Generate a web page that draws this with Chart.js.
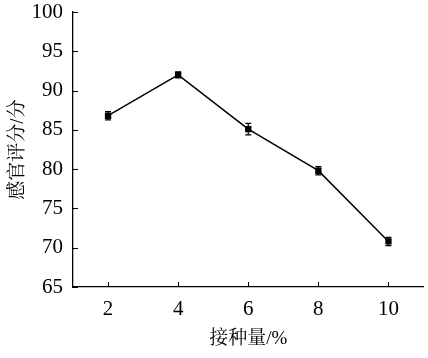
<!DOCTYPE html>
<html><head><meta charset="utf-8">
<script src="https://cdn.jsdelivr.net/npm/chart.js@4"></script>
<style>html,body{margin:0;padding:0;background:#fff;}#wrap{width:428px;height:358px;}</style>
</head><body><div id="wrap"><canvas id="c" width="428" height="358"></canvas></div>
<script>
const categories = [2, 4, 6, 8, 10];
const scores = [86.8, 92.0, 85.1, 79.8, 70.8];
const errors = [0.4, 0.25, 0.6, 0.4, 0.4];
const yTicks = [65, 70, 75, 80, 85, 90, 95, 100];
const xTitle = '接种量/%';
const yTitle = '感官评分/分';

const serif = "'Liberation Serif', 'Noto Serif CJK SC', 'Noto Sans CJK SC', serif";

const extras = {
  id: 'extras',
  afterDatasetsDraw(chart) {
    const ctx = chart.ctx, xs = chart.scales.x, ys = chart.scales.y;
    ctx.save();
    ctx.strokeStyle = '#000';
    ctx.lineWidth = 1.3;
    categories.forEach((c, i) => {
      const px = xs.getPixelForValue(c);
      const top = ys.getPixelForValue(scores[i] + errors[i]);
      const bot = ys.getPixelForValue(scores[i] - errors[i]);
      ctx.beginPath();
      ctx.moveTo(px, top - 1); ctx.lineTo(px, bot + 1);
      ctx.moveTo(px - 3, top - 1); ctx.lineTo(px + 3, top - 1);
      ctx.moveTo(px - 3, bot + 1); ctx.lineTo(px + 3, bot + 1);
      ctx.stroke();
    });
    ctx.lineWidth = 1;
    const area = chart.chartArea;
    categories.forEach(c => {
      const px = Math.round(xs.getPixelForValue(c)) + 0.5;
      ctx.beginPath(); ctx.moveTo(px, area.bottom); ctx.lineTo(px, area.bottom - 5); ctx.stroke();
    });
    yTicks.forEach(v => {
      const py = Math.round(ys.getPixelForValue(v)) + 0.5;
      ctx.beginPath(); ctx.moveTo(area.left, py); ctx.lineTo(area.left + 5, py); ctx.stroke();
    });
    ctx.restore();
  }
};

new Chart(document.getElementById('c'), {
  type: 'line',
  data: {
    datasets: [{
      data: categories.map((c, i) => ({x: c, y: scores[i]})),
      borderColor: '#000',
      backgroundColor: '#000',
      borderWidth: 1.5,
      pointStyle: 'rect',
      pointRadius: 4.5,
      pointBorderWidth: 0,
      tension: 0
    }]
  },
  options: {
    responsive: false,
    animation: false,
    devicePixelRatio: 1,
    layout: {padding: {top: 12, right: 1, left: 0, bottom: 0}},
    plugins: {legend: {display: false}, tooltip: {enabled: false}},
    scales: {
      x: {
        type: 'linear', min: 1, max: 11,
        afterBuildTicks: s => { s.ticks = categories.map(v => ({value: v})); },
        afterFit: s => { s.height = 71; s.paddingLeft = 0; s.paddingRight = 0; },
        grid: {display: true, drawOnChartArea: false, drawTicks: false},
        border: {display: true, color: '#000', width: 1.3},
        ticks: {color: '#000', padding: 10, font: {family: serif, size: 21}, callback: v => String(v)},
        title: {display: true, text: xTitle, color: '#000', font: {family: serif, size: 19}, padding: {top: 0, bottom: 8}}
      },
      y: {
        type: 'linear', min: 65, max: 100,
        afterBuildTicks: s => { s.ticks = yTicks.map(v => ({value: v})); },
        afterFit: s => { s.width = 73; s.paddingTop = 0; s.paddingBottom = 0; },
        grid: {display: true, drawOnChartArea: false, drawTicks: false},
        border: {display: true, color: '#000', width: 1.3},
        ticks: {color: '#000', padding: 10, font: {family: serif, size: 21}},
        title: {display: true, text: yTitle, color: '#000', font: {family: serif, size: 19}, padding: {top: 7, bottom: 0}}
      }
    }
  },
  plugins: [extras]
});
</script></body></html>
